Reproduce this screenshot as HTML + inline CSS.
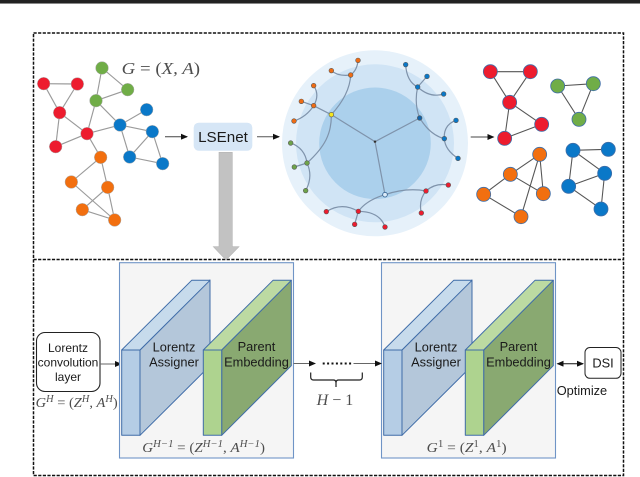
<!DOCTYPE html>
<html><head><meta charset="utf-8"><style>
html,body{margin:0;padding:0;background:#fff;width:640px;height:477px;overflow:hidden}
svg{display:block}
text{font-family:"Liberation Sans",sans-serif;fill:#1a1a1a}
.m{font-family:"Liberation Serif",serif;fill:#4d4d4d;font-style:italic}
.n{font-style:normal}
.s{font-size:10px}
.g1 line{stroke:#9a9a9a;stroke-width:3.4}
.g1 circle{r:19px;stroke:#aaa;stroke-width:1.5}
.g2 line{stroke:#555;stroke-width:3.2}
.g2 ellipse{rx:21px;ry:21px;stroke:#3f6ea8;stroke-width:2.4}
.t path{fill:none;stroke:#7f93ab;stroke-width:3.6}
.t circle{r:7px;stroke:#555;stroke-width:1.8}
</style></head><body>
<svg width="640" height="477" viewBox="0 0 640 477" xmlns="http://www.w3.org/2000/svg">
<defs>
<marker id="a" markerWidth="7" markerHeight="6" refX="6" refY="3" orient="auto" markerUnits="userSpaceOnUse"><path d="M0,0L7,3L0,6Z" fill="#111"/></marker>
<marker id="b" markerWidth="7" markerHeight="6" refX="1" refY="3" orient="auto" markerUnits="userSpaceOnUse"><path d="M7,0L0,3L7,6Z" fill="#111"/></marker>
</defs>
<rect width="640" height="3" fill="#222"/>
<rect y="3" width="640" height="1" fill="#888"/>

<!-- dashed frames -->
<rect x="33.5" y="33" width="590" height="442.5" fill="none" stroke="#111" stroke-width="1.5" stroke-dasharray="3.2 1.4"/>
<line x1="33.5" y1="259.5" x2="623.5" y2="259.5" stroke="#111" stroke-width="1.5" stroke-dasharray="3.2 1.4"/>

<!-- input graph (zoom coordinates) -->
<g class="g1" transform="translate(20,30) scale(.33333)">
<line x1="71" y1="161" x2="172" y2="162"/><line x1="71" y1="161" x2="119" y2="248"/><line x1="172" y1="162" x2="119" y2="248"/>
<line x1="119" y1="248" x2="201" y2="311"/><line x1="119" y1="248" x2="107" y2="350"/><line x1="201" y1="311" x2="107" y2="350"/>
<line x1="201" y1="311" x2="228" y2="212"/><line x1="201" y1="311" x2="300" y2="285"/><line x1="201" y1="311" x2="242" y2="382"/>
<line x1="246" y1="114" x2="228" y2="212"/><line x1="246" y1="114" x2="323" y2="179"/><line x1="323" y1="179" x2="228" y2="212"/>
<line x1="228" y1="212" x2="300" y2="285"/><line x1="380" y1="239" x2="300" y2="285"/><line x1="300" y1="285" x2="397" y2="305"/>
<line x1="300" y1="285" x2="329" y2="381"/><line x1="397" y1="305" x2="329" y2="381"/><line x1="397" y1="305" x2="428" y2="401"/><line x1="329" y1="381" x2="428" y2="401"/>
<line x1="242" y1="382" x2="154" y2="456"/><line x1="242" y1="382" x2="263" y2="472"/><line x1="154" y1="456" x2="284" y2="570"/>
<line x1="263" y1="472" x2="187" y2="539"/><line x1="263" y1="472" x2="284" y2="570"/><line x1="187" y1="539" x2="284" y2="570"/>
<g fill="#ed1c2e"><circle cx="71" cy="161"/><circle cx="172" cy="162"/><circle cx="119" cy="248"/><circle cx="201" cy="311"/><circle cx="107" cy="350"/></g>
<g fill="#70ad47"><circle cx="246" cy="114"/><circle cx="323" cy="179"/><circle cx="228" cy="212"/></g>
<g fill="#0a78c8"><circle cx="380" cy="239"/><circle cx="300" cy="285"/><circle cx="397" cy="305"/><circle cx="329" cy="381"/><circle cx="428" cy="401"/></g>
<g fill="#f26f0f"><circle cx="242" cy="382"/><circle cx="154" cy="456"/><circle cx="263" cy="472"/><circle cx="187" cy="539"/><circle cx="284" cy="570"/></g>
</g>
<text class="m" x="121.7" y="74" font-size="16.5" textLength="78.3" lengthAdjust="spacingAndGlyphs">G <tspan class="n">= (</tspan>X, A<tspan class="n">)</tspan></text>

<!-- LSEnet -->
<line x1="165" y1="136.7" x2="187" y2="136.7" stroke="#444" stroke-width="1" marker-end="url(#a)"/>
<rect x="193.7" y="122.7" width="58.6" height="28" rx="5" fill="#d6e6f6"/>
<text x="223" y="142" font-size="15.2" text-anchor="middle">LSEnet</text>
<line x1="257" y1="136.7" x2="279" y2="136.7" stroke="#555" stroke-width="1" marker-end="url(#a)"/>
<path d="M219,152.3H232.3V246.7H239L226,260L213.3,246.7H219Z" fill="#c2c2c2" stroke="#b5b5b5" stroke-width=".6"/>

<!-- hyperbolic tree -->
<circle cx="375" cy="143.3" r="93" fill="#e6f1fa"/>
<circle cx="375" cy="143.3" r="79" fill="#d0e4f5"/>
<circle cx="375" cy="143.3" r="55.8" fill="#abd0ec"/>
<g class="t" transform="translate(270,30) scale(.33333)">
<path d="M315,335L184,254M315,335L449,264M315,335L345,494"/>
<path d="M184,254C215,220 240,180 242,135M242,135Q262,120 264,91M242,135Q205,140 184,122M184,254L131,227L94,214M131,227Q150,195 131,167M131,227Q110,260 72,273"/>
<path d="M184,254C185,310 165,350 111,399M111,399Q105,355 62,339M111,399L73,411M111,399Q130,440 107,482"/>
<path d="M449,264Q432,220 443,171M443,171Q410,155 407,104M443,171L471,139M443,171Q480,205 521,192M449,264Q480,315 523,326M523,326Q520,285 558,271M523,326Q525,360 564,385"/>
<path d="M345,494Q410,472 468,483M468,483Q495,458 535,465M468,483Q445,510 454,549M345,494Q290,510 265,544M265,544Q215,515 169,545M265,544L254,583M265,544Q330,545 345,591"/>
<circle cx="315" cy="335" style="r:3px" fill="#111"/>
<circle cx="184" cy="254" fill="#f5e61e"/><circle cx="449" cy="264" fill="#1464a8"/><circle cx="345" cy="494" fill="#dcebf8" style="stroke:#2f5f90;stroke-width:2.4"/>
<g fill="#ef6c14"><circle cx="242" cy="135"/><circle cx="264" cy="91"/><circle cx="184" cy="122"/><circle cx="131" cy="227"/><circle cx="131" cy="167"/><circle cx="94" cy="214"/><circle cx="72" cy="273"/></g>
<g fill="#6ea34a"><circle cx="111" cy="399"/><circle cx="62" cy="339"/><circle cx="73" cy="411"/><circle cx="107" cy="482"/></g>
<g fill="#0a78c8"><circle cx="443" cy="171"/><circle cx="407" cy="104"/><circle cx="471" cy="139"/><circle cx="521" cy="192"/><circle cx="523" cy="326"/><circle cx="558" cy="271"/><circle cx="564" cy="385"/></g>
<g fill="#ed1c2e"><circle cx="265" cy="544"/><circle cx="169" cy="545"/><circle cx="254" cy="583"/><circle cx="345" cy="591"/><circle cx="468" cy="483"/><circle cx="535" cy="465"/><circle cx="454" cy="549"/></g>
</g>

<!-- output graphs -->
<line x1="470.7" y1="137" x2="493.5" y2="137" stroke="#444" stroke-width="1" marker-end="url(#a)"/>
<g class="g2" transform="translate(460,50) scale(.33333)">
<line x1="91" y1="65" x2="211" y2="65"/><line x1="91" y1="65" x2="149" y2="157"/><line x1="211" y1="65" x2="149" y2="157"/><line x1="149" y1="157" x2="245" y2="223"/><line x1="149" y1="157" x2="134" y2="265"/><line x1="245" y1="223" x2="134" y2="265"/>
<line x1="293" y1="108" x2="400" y2="101"/><line x1="293" y1="108" x2="357" y2="208"/><line x1="400" y1="101" x2="357" y2="208"/>
<line x1="239" y1="313" x2="151" y2="373"/><line x1="239" y1="313" x2="250" y2="431"/><line x1="239" y1="313" x2="183" y2="500"/><line x1="151" y1="373" x2="71" y2="433"/><line x1="151" y1="373" x2="250" y2="431"/><line x1="71" y1="433" x2="183" y2="500"/>
<line x1="339" y1="301" x2="445" y2="298"/><line x1="339" y1="301" x2="434" y2="370"/><line x1="339" y1="301" x2="326" y2="409"/><line x1="434" y1="370" x2="326" y2="409"/><line x1="434" y1="370" x2="423" y2="477"/><line x1="326" y1="409" x2="423" y2="477"/>
<g fill="#ed1c2e"><ellipse cx="91" cy="65"/><ellipse cx="211" cy="65"/><ellipse cx="149" cy="157"/><ellipse cx="245" cy="223"/><ellipse cx="134" cy="265"/></g>
<g fill="#70ad47"><ellipse cx="293" cy="108"/><ellipse cx="400" cy="101"/><ellipse cx="357" cy="208"/></g>
<g fill="#f26f0f"><ellipse cx="239" cy="313"/><ellipse cx="151" cy="373"/><ellipse cx="71" cy="433"/><ellipse cx="250" cy="431"/><ellipse cx="183" cy="500"/></g>
<g fill="#0a78c8"><ellipse cx="339" cy="301"/><ellipse cx="445" cy="298"/><ellipse cx="434" cy="370"/><ellipse cx="326" cy="409"/><ellipse cx="423" cy="477"/></g>
</g>

<!-- Lorentz convolution layer -->
<rect x="36.5" y="332.5" width="63.5" height="59" rx="8.5" fill="#fff" stroke="#222" stroke-width="1.1"/>
<text font-size="12" text-anchor="middle"><tspan x="68" y="352">Lorentz</tspan><tspan x="68" y="366.5">convolution</tspan><tspan x="68" y="381">layer</tspan></text>
<line x1="100" y1="364" x2="121" y2="364" stroke="#666" stroke-width="1" marker-end="url(#a)"/>
<text class="m" x="35.7" y="407" font-size="14" textLength="82" lengthAdjust="spacingAndGlyphs">G<tspan class="s" dy="-5">H</tspan><tspan class="n" dy="5"> = (</tspan>Z<tspan class="s" dy="-5">H</tspan><tspan class="n" dy="5">, </tspan>A<tspan class="s" dy="-5">H</tspan><tspan class="n" dy="5">)</tspan></text>

<!-- block group 1 -->
<g id="blk">
<rect x="119.5" y="262.7" width="174" height="195.3" fill="#f5f5f5" stroke="#6f94c6" stroke-width="1.1"/>
<g stroke="#3f6ca8" stroke-width="1" stroke-linejoin="round">
<path d="M140,350L210,280V365.7L140,435.3Z" fill="#b4c7da"/>
<path d="M121.7,350L191.7,280.3H210L140,350Z" fill="#c7dbec"/>
<rect x="121.7" y="350" width="18.3" height="85.3" fill="#b5cde5"/>
<path d="M221.7,350L291.3,280.3V365.7L221.7,435.3Z" fill="#89a971"/>
<path d="M203.3,350L273,280.3H291.3L221.7,350Z" fill="#bcdaa2"/>
<rect x="203.3" y="350" width="18.4" height="85.3" fill="#aed38f"/>
</g>
<text font-size="12.8" text-anchor="middle" fill="#222"><tspan x="174" y="351.5">Lorentz</tspan><tspan x="174" y="366.5">Assigner</tspan><tspan x="256.5" y="351">Parent</tspan><tspan x="256.5" y="366.5">Embedding</tspan></text>
</g>
<use href="#blk" x="262"/>
<text class="m" x="142.3" y="452" font-size="14" textLength="122.7" lengthAdjust="spacingAndGlyphs">G<tspan class="s" dy="-5">H−1</tspan><tspan class="n" dy="5"> = (</tspan>Z<tspan class="s" dy="-5">H−1</tspan><tspan class="n" dy="5">, </tspan>A<tspan class="s" dy="-5">H−1</tspan><tspan class="n" dy="5">)</tspan></text>
<text class="m" x="426.7" y="452" font-size="14" textLength="80" lengthAdjust="spacingAndGlyphs">G<tspan class="s n" dy="-5">1</tspan><tspan class="n" dy="5"> = (</tspan>Z<tspan class="s n" dy="-5">1</tspan><tspan class="n" dy="5">, </tspan>A<tspan class="s n" dy="-5">1</tspan><tspan class="n" dy="5">)</tspan></text>

<!-- middle connector -->
<line x1="293.5" y1="363.5" x2="315" y2="363.5" stroke="#666" stroke-width="1" marker-end="url(#a)"/>
<line x1="322.7" y1="363.5" x2="352" y2="363.5" stroke="#111" stroke-width="2" stroke-dasharray="2 2.4"/>
<line x1="353.5" y1="363.5" x2="381" y2="363.5" stroke="#666" stroke-width="1" marker-end="url(#a)"/>
<path d="M310.7,372.5V377Q310.7,380 313.5,380H333.5Q336,380 336,383V387M336,383Q336,380 338.5,380H359.5Q362.3,380 362.3,377V372.5" fill="none" stroke="#222" stroke-width="1.2"/>
<text class="m" x="316.7" y="405" font-size="16" textLength="36.6" lengthAdjust="spacingAndGlyphs">H <tspan class="n">− 1</tspan></text>

<!-- DSI -->
<line x1="557.5" y1="363.7" x2="583" y2="363.7" stroke="#111" stroke-width="1" marker-start="url(#b)" marker-end="url(#a)"/>
<rect x="585" y="347.5" width="36" height="30.8" rx="5" fill="#fff" stroke="#222" stroke-width="1"/>
<text x="603" y="367.5" font-size="12.8" text-anchor="middle">DSI</text>
<text x="556.7" y="395" font-size="12.8">Optimize</text>
</svg>
</body></html>
